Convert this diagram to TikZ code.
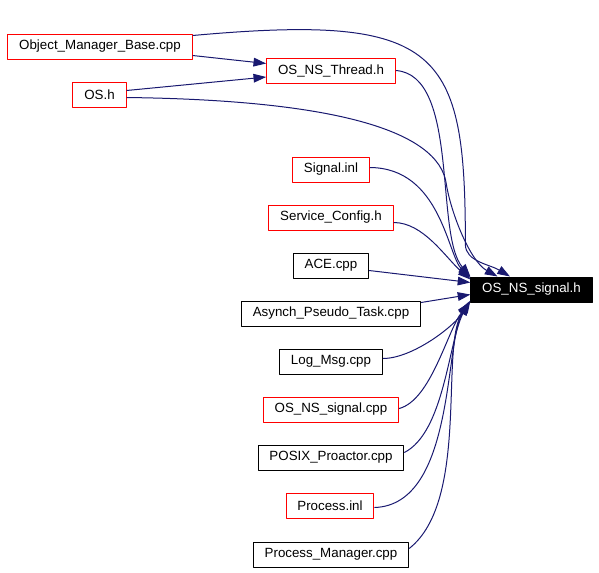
\documentclass[tikz,border=0pt]{standalone}
\usepackage{fontspec}
\setmainfont{Liberation Sans}
\usepackage{tikz}
\usetikzlibrary{arrows.meta,calc,positioning}
\definecolor{navyedge}{HTML}{191970}

\begin{document}
\begin{tikzpicture}[x=0.75pt,y=-0.75pt,line join=round,
	file/.style={draw=black,line width=0.75pt,inner xsep=8.5pt,inner ysep=0pt,minimum height=18.75pt,font=\fontsize{10}{12}\selectfont},
	rfile/.style={file,draw=red},
	dep/.style={draw=navyedge,line width=0.75pt,-{Triangle[length=9.5pt,width=6.5pt]}}]
	\useasboundingbox (0,0) rectangle (599,572);
	% the header everything points at
	\node[file,fill=black,text=white] (tgt) at (531.5,289.5) {OS\_NS\_signal.h};
	% files that include it
	\node[rfile] (omb) at (100,46.5) {Object\_Manager\_Base.cpp};
	\node[rfile] (osh) at (99.5,94.5) {OS.h};
	\node[rfile] (thr) at (331,70.5) {OS\_NS\_Thread.h};
	\node[rfile] (sig) at (331,169.5) {Signal.inl};
	\node[rfile] (svc) at (331,217.5) {Service\_Config.h};
	\node[file] (ace) at (331,265.5) {ACE.cpp};
	\node[file] (asy) at (331,313.5) {Asynch\_Pseudo\_Task.cpp};
	\node[file] (log) at (331,361.5) {Log\_Msg.cpp};
	\node[rfile] (nsc) at (331,409.5) {OS\_NS\_signal.cpp};
	\node[file] (pxp) at (331,457.5) {POSIX\_Proactor.cpp};
	\node[rfile] (pin) at (330,505.5) {Process.inl};
	\node[file] (pmg) at (331,554.5) {Process\_Manager.cpp};
	% into OS_NS_Thread.h
	\draw[dep] ($(omb.east)+(0,9)$) -- ($(thr.west)+(0,-7)$);
	\draw[dep] ($(osh.east)+(0,-4)$) -- ($(thr.west)+(0,6.5)$);
	% long ones from the top
	\draw[dep] ($(omb.east)+(0,-11)$) .. controls +(249,-22.5) and +(0,-195) .. ($(tgt.north west)+(-5,-32)$)
		.. controls +(0,17) and +(-20,-12) .. ($(tgt.north)+(-21.5,0)$);
	\draw[dep] ($(osh.east)+(0,3)$) .. controls +(204,2.5) and +(-7,-55) .. ($(tgt.north west)+(-24,-92)$)
		.. controls +(5,30) and +(-27,-15) .. ($(tgt.north)+(-34,0)$);
	\draw[dep] (thr.east) .. controls +(64,4.5) and +(-36,-42) .. (tgt.north west);
	\draw[dep] ($(sig.east)+(0,-2)$) .. controls +(71,0.5) and +(-23,-23) .. ($(tgt.north west)+(0,1.5)$);
	\draw[dep] ($(svc.east)+(0,5)$) .. controls +(30,0) and +(-25,-22) .. ($(tgt.north west)+(0,3)$);
	% straight ones
	\draw[dep] ($(ace.east)+(0,5)$) -- ($(tgt.west)+(0,-7)$);
	\draw[dep] ($(asy.east)+(0,-11)$) -- ($(tgt.west)+(0,5)$);
	% from below
	\draw[dep] ($(log.east)+(0,-3)$) .. controls +(30,0) and +(-15,25) .. ($(tgt.west)+(0,11)$);
	\draw[dep] ($(nsc.east)+(0,-1)$) .. controls +(32,-8.5) and +(-22,28) .. ($(tgt.south west)+(-1,0)$);
	\draw[dep] ($(pxp.east)+(0,-5)$) .. controls +(40,-20.5) and +(-20,40) .. ($(tgt.south west)+(-2,0)$);
	\draw[dep] ($(pin.east)+(0,2)$) .. controls +(81,-2.5) and +(-25,38) .. ($(tgt.south west)+(-1,0)$);
	\draw[dep] ($(pmg.east)+(0,-6)$) .. controls +(61,-48) and +(-30,43) .. ($(tgt.south west)+(-1,0)$);
\end{tikzpicture}
\end{document}
